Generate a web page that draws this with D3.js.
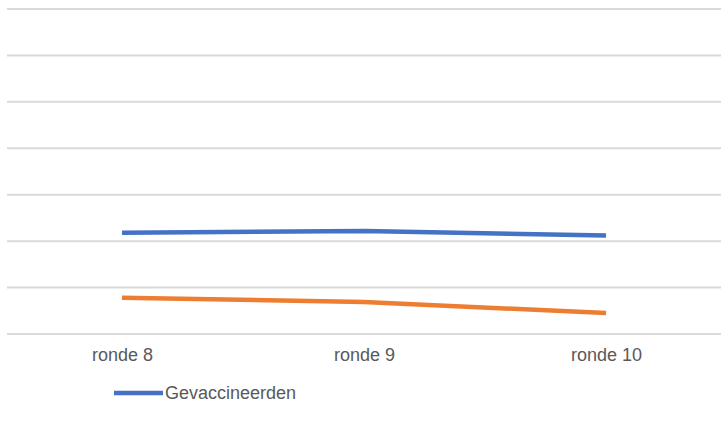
<!DOCTYPE html>
<html><head><meta charset="utf-8">
<script src="https://cdn.jsdelivr.net/npm/d3@7"></script>
<style>body{margin:0;background:#fff;}svg{display:block;}</style>
</head><body>
<svg id="c" width="721" height="426"></svg>
<script>
const categories = ["ronde 8", "ronde 9", "ronde 10"];
const gevaccineerden = [2.18, 2.22, 2.12];
const ongevaccineerd = [0.78, 0.69, 0.45];
const yTicks = [0, 1, 2, 3, 4, 5, 6, 7];
const legendLabel = "Gevaccineerden";

const svg = d3.select("#c");
const x = d3.scalePoint().domain(categories).range([7, 721]).padding(0.475);
const y = d3.scaleLinear().domain([0, 7]).range([334, 9]);

svg.append("g").selectAll("line").data(yTicks).join("line")
  .attr("x1", 7).attr("x2", 721)
  .attr("y1", d => y(d)).attr("y2", d => y(d))
  .attr("stroke", "#d9d9d9").attr("stroke-width", 2);

const line = d3.line().x((d, i) => x(categories[i])).y(d => y(d));
svg.append("path").datum(ongevaccineerd).attr("d", line)
  .attr("fill", "none").attr("stroke", "#ed7d31").attr("stroke-width", 4.5);
svg.append("path").datum(gevaccineerden).attr("d", line)
  .attr("fill", "none").attr("stroke", "#4472c4").attr("stroke-width", 4.5);

const xAxis = d3.axisBottom(x).tickSize(0).tickPadding(0);
const ga = svg.append("g").attr("transform", "translate(0,361)").call(xAxis);
ga.select(".domain").remove();
ga.selectAll("text").attr("dy", 0).attr("font-family", "Liberation Sans Narrow, Liberation Sans, sans-serif")
  .attr("font-size", 18).attr("fill", "#595959");

const lg = svg.append("g");
lg.append("line").attr("x1", 114).attr("x2", 163).attr("y1", 393).attr("y2", 393)
  .attr("stroke", "#4472c4").attr("stroke-width", 4.5);
lg.append("text").attr("x", 165).attr("y", 399).text(legendLabel)
  .attr("font-family", "Liberation Sans Narrow, Liberation Sans, sans-serif")
  .attr("font-size", 18).attr("fill", "#595959");
</script>
</body></html>
